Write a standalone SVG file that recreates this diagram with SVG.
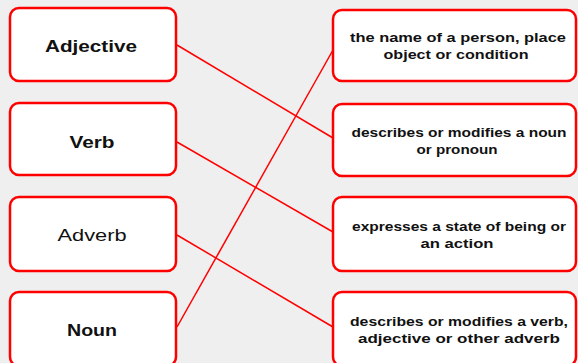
<svg xmlns="http://www.w3.org/2000/svg" width="578" height="363" viewBox="0 0 578 363">
<style>
.box{fill:#fff;stroke:#ff0000;stroke-width:2.5}
.lt{font-family:"Liberation Sans",Arial,sans-serif;font-weight:bold;font-size:16px;fill:#111;text-anchor:middle}
.rt{font-family:"Liberation Sans",Arial,sans-serif;font-size:12.5px;font-weight:bold;fill:#111;text-anchor:middle}
.con{stroke:#ff0000;stroke-width:1.5;fill:none}
</style>
<rect width="578" height="363" fill="#efefef"/>
<g id="connectors">
<line class="con" x1="177" y1="45" x2="333" y2="138"/>
<line class="con" x1="177" y1="142" x2="333" y2="232"/>
<line class="con" x1="177" y1="235" x2="333" y2="327"/>
<line class="con" x1="177" y1="327" x2="333" y2="50"/>
</g>
<g id="adjective"><rect class="box" x="10" y="8" width="166" height="73" rx="9"/><text class="lt" x="91" y="52" textLength="92" lengthAdjust="spacingAndGlyphs">Adjective</text></g>
<g id="verb"><rect class="box" x="10" y="103" width="166" height="72" rx="9"/><text class="lt" x="92" y="148" textLength="45" lengthAdjust="spacingAndGlyphs">Verb</text></g>
<g id="adverb"><rect class="box" x="10" y="197" width="166" height="74" rx="9"/><text class="lt" x="92" y="241" style="font-weight:normal" textLength="69" lengthAdjust="spacingAndGlyphs">Adverb</text></g>
<g id="noun"><rect class="box" x="10" y="292" width="166" height="74" rx="9"/><text class="lt" x="92" y="336" textLength="50" lengthAdjust="spacingAndGlyphs">Noun</text></g>
<g id="def-noun"><rect class="box" x="333" y="10" width="243" height="71" rx="9"/><text class="rt" x="458" y="42" textLength="216" lengthAdjust="spacingAndGlyphs">the name of a person, place</text><text class="rt" x="456" y="59" textLength="145" lengthAdjust="spacingAndGlyphs">object or condition</text></g>
<g id="def-adjective"><rect class="box" x="333" y="104" width="243" height="72" rx="9"/><text class="rt" x="459" y="137" textLength="215" lengthAdjust="spacingAndGlyphs">describes or modifies a noun</text><text class="rt" x="457" y="154" textLength="81" lengthAdjust="spacingAndGlyphs">or pronoun</text></g>
<g id="def-verb"><rect class="box" x="333" y="197" width="243" height="74" rx="9"/><text class="rt" x="459" y="231" textLength="214" lengthAdjust="spacingAndGlyphs">expresses a state of being or</text><text class="rt" x="457" y="248" textLength="73" lengthAdjust="spacingAndGlyphs">an action</text></g>
<g id="def-adverb"><rect class="box" x="333" y="292" width="243" height="74" rx="9"/><text class="rt" x="459" y="326" textLength="218" lengthAdjust="spacingAndGlyphs">describes or modifies a verb,</text><text class="rt" x="459" y="343" textLength="202" lengthAdjust="spacingAndGlyphs">adjective or other adverb</text></g>
</svg>
